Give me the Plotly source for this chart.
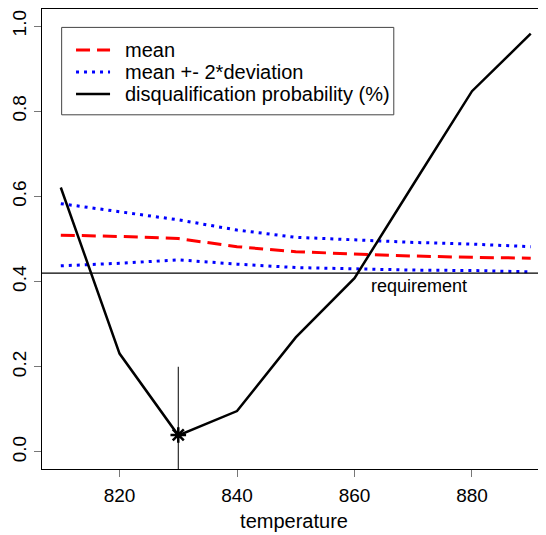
import plotly.graph_objects as go

temperature = [810, 820, 830, 840, 850, 860, 870, 880, 890]
mean = [0.509, 0.506, 0.501, 0.482, 0.470, 0.465, 0.460, 0.457, 0.455]
upper = [0.583, 0.564, 0.545, 0.521, 0.504, 0.498, 0.492, 0.488, 0.482]
lower = [0.437, 0.443, 0.451, 0.441, 0.433, 0.430, 0.427, 0.426, 0.423]
disq = [0.621, 0.231, 0.039, 0.096, 0.269, 0.408, 0.628, 0.847, 0.982]

requirement = 0.42
best_t = 830
best_p = 0.04

legend_labels = ["mean", "mean +- 2*deviation", "disqualification probability (%)"]
legend_colors = ["red", "blue", "black"]
legend_dash = ["14px,7px", "3px,5px", "solid"]
legend_width = [3, 3, 2.5]

font = "Liberation Sans, Arial, sans-serif"

fig = go.Figure()
fig.add_trace(go.Scatter(x=temperature, y=mean, mode="lines", name="mean",
                         line=dict(color="red", width=3, dash="14px,7px")))
fig.add_trace(go.Scatter(x=temperature, y=upper, mode="lines", name="mean +- 2*deviation",
                         line=dict(color="blue", width=3, dash="3px,5px")))
fig.add_trace(go.Scatter(x=temperature, y=lower, mode="lines", name="mean +- 2*deviation",
                         line=dict(color="blue", width=3, dash="3px,5px")))
fig.add_trace(go.Scatter(x=temperature, y=disq, mode="lines",
                         name="disqualification probability (%)",
                         line=dict(color="black", width=2.5)))
fig.add_trace(go.Scatter(x=[best_t], y=[best_p], mode="markers",
                         marker=dict(symbol="asterisk-open", size=13, color="black",
                                     line=dict(color="black", width=2.5))))

# requirement line and the minimum marker line
fig.add_shape(type="line", xref="paper", x0=0, x1=1, yref="y",
              y0=requirement, y1=requirement, line=dict(color="black", width=1.2))
fig.add_shape(type="line", xref="x", x0=best_t, x1=best_t, yref="y",
              y0=0.2, y1=-0.04, line=dict(color="black", width=1))
fig.add_annotation(x=871, y=0.39, text="requirement", showarrow=False,
                   font=dict(size=18, color="black", family=font))

# legend box drawn R-style (paper coordinates)
fig.add_shape(type="rect", xref="paper", yref="paper", x0=0.039, x1=0.698,
              y0=0.770, y1=0.960, line=dict(color="#444", width=1),
              fillcolor="white", layer="above")
rows = [0.911, 0.863, 0.815]
for lab, col, d, w, ry in zip(legend_labels, legend_colors, legend_dash, legend_width, rows):
    fig.add_shape(type="line", xref="paper", yref="paper", x0=0.0675, x1=0.135,
                  y0=ry, y1=ry, line=dict(color=col, width=w, dash=d), layer="above")
    fig.add_annotation(xref="paper", yref="paper", x=0.161, y=ry, text=lab,
                       showarrow=False, xanchor="left", yanchor="middle",
                       font=dict(size=20, color="black", family=font))

fig.update_layout(
    width=538, height=527,
    margin=dict(l=34, r=0, t=1, b=66),
    plot_bgcolor="white", paper_bgcolor="white",
    font=dict(family=font, size=19, color="black"),
    showlegend=False,
)
fig.update_xaxes(range=[806.8, 892.6], tickvals=[820, 840, 860, 880],
                 showgrid=False, zeroline=False, automargin=False,
                 showline=True, mirror=True, linecolor="black", linewidth=1,
                 ticks="outside", ticklen=7, tickcolor="#777",
                 ticklabelstandoff=2,
                 title=dict(text="temperature", standoff=9, font=dict(size=20)))
fig.update_yaxes(range=[-0.04, 1.04], tickvals=[0, 0.2, 0.4, 0.6, 0.8, 1.0],
                 tickformat=".1f", tickangle=-90,
                 showgrid=False, zeroline=False, automargin=False,
                 showline=True, linecolor="black", linewidth=1,
                 ticks="outside", ticklen=7, tickcolor="#777",
                 ticklabelstandoff=0)

fig.write_html("out.html")
